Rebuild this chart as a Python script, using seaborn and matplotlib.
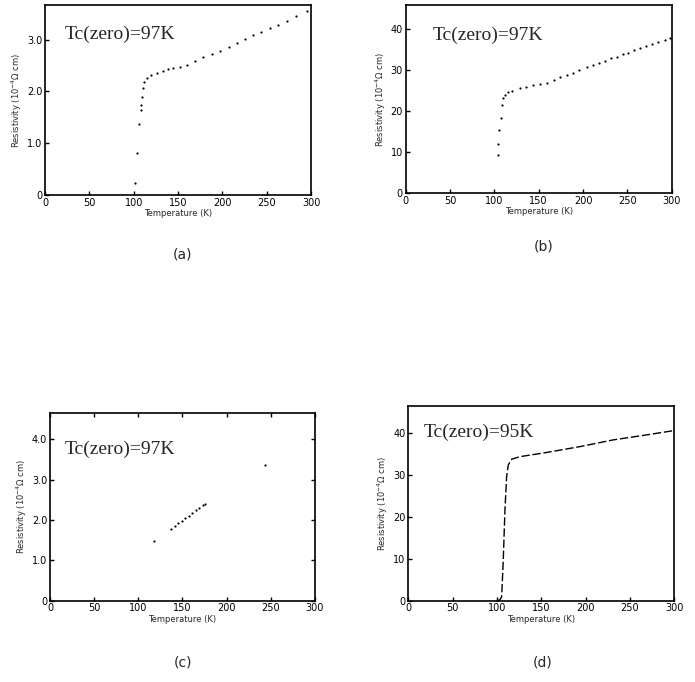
import matplotlib
matplotlib.use("Agg")
import matplotlib.pyplot as plt
import seaborn as sns
import pandas as pd

# ---- data ----
temp_a = [101.5, 104, 106, 107.8, 108.2, 109, 110, 111.6, 114.6, 120, 126, 133.4, 139, 144.7,
          152, 159.7, 169, 178.5, 188, 197.3, 207, 216, 225, 234.8, 244, 253.7, 263, 272.5, 283, 295]
res_a = [0.23, 0.82, 1.37, 1.64, 1.74, 1.89, 2.06, 2.19, 2.26, 2.32, 2.36, 2.40, 2.43, 2.45,
         2.48, 2.51, 2.58, 2.66, 2.72, 2.79, 2.86, 2.93, 3.01, 3.09, 3.15, 3.22, 3.29, 3.37, 3.45, 3.56]

temp_b = [103.7, 104.4, 105.5, 107.1, 108.2, 110, 112, 115.7, 120, 128.9, 136, 144, 151, 159,
          167, 174, 182, 189, 196, 204, 211.5, 218, 225, 232, 237.9, 245, 251, 258, 264, 271,
          278, 285, 292.3, 298]
res_b = [9.3, 12.0, 15.4, 18.2, 21.5, 23.1, 23.9, 24.5, 24.9, 25.5, 25.9, 26.3, 26.6, 26.9,
         27.6, 28.3, 28.8, 29.3, 29.9, 30.6, 31.2, 31.7, 32.2, 32.8, 33.2, 33.8, 34.2, 34.8,
         35.3, 35.8, 36.3, 36.8, 37.3, 37.8]

temp_c = [118, 137, 141, 145, 149, 153, 157, 161, 165, 169, 173, 175, 243]
res_c = [1.48, 1.78, 1.85, 1.92, 1.98, 2.05, 2.11, 2.18, 2.24, 2.30, 2.36, 2.40, 3.37]

temp_d = [100, 103.4, 105.3, 107.1, 109, 110.9, 112.7, 116.6, 126, 156, 193.6, 231, 268.8, 298.8]
res_d = [0.0, 0.2, 1.0, 9.7, 21.7, 29.6, 32.4, 33.8, 34.4, 35.4, 36.8, 38.4, 39.6, 40.6]

x_ticks = [0, 50, 100, 150, 200, 250, 300]
x_ticklabels = ["0", "50", "100", "150", "200", "250", "300"]
yticks_a = [0, 1, 2, 3]
yticklabels_a = ["0", "1.0", "2.0", "3.0"]
yticks_b = [0, 10, 20, 30, 40]
yticklabels_b = ["0", "10", "20", "30", "40"]
yticks_c = [0, 1, 2, 3, 4]
yticklabels_c = ["0", "1.0", "2.0", "3.0", "4.0"]
yticks_d = [0, 10, 20, 30, 40]
yticklabels_d = ["0", "10", "20", "30", "40"]

annot = ["Tc(zero)=97K", "Tc(zero)=97K", "Tc(zero)=97K", "Tc(zero)=95K"]
panel_labels = ["(a)", "(b)", "(c)", "(d)"]

sns.set_style("white")
plt.rcParams['font.family'] = ['DejaVu Sans']

fig = plt.figure(figsize=(6.95, 6.82), dpi=100)

specs = [
    dict(rect=[0.0647, 0.7141, 0.3828, 0.2786], T=temp_a, R=res_a, ylim=3.67,
         yt=yticks_a, ytl=yticklabels_a, txt=(22, 3.11), kind="dots", lab=(183, 255)),
    dict(rect=[0.5837, 0.7170, 0.3828, 0.2757], T=temp_b, R=res_b, ylim=45.8,
         yt=yticks_b, ytl=yticklabels_b, txt=(30, 38.5), kind="dots", lab=(544, 247)),
    dict(rect=[0.0719, 0.1192, 0.3813, 0.2757], T=temp_c, R=res_c, ylim=4.66,
         yt=yticks_c, ytl=yticklabels_c, txt=(17, 3.76), kind="dots", lab=(183, 662)),
    dict(rect=[0.5875, 0.1192, 0.3827, 0.2855], T=temp_d, R=res_d, ylim=46.5,
         yt=yticks_d, ytl=yticklabels_d, txt=(17, 40.1), kind="line", lab=(543, 662)),
]

for i, s in enumerate(specs):
    ax = fig.add_axes(s["rect"])
    df = pd.DataFrame({"T": s["T"], "R": s["R"]})
    if s["kind"] == "dots":
        sns.scatterplot(data=df, x="T", y="R", ax=ax, s=2.5, color="black",
                        linewidth=0, marker="o", legend=False)
    else:
        sns.lineplot(data=df, x="T", y="R", ax=ax, color="black", linewidth=1.0,
                     legend=False, linestyle=(0, (6, 2)))
    ax.set_xlim(0, 300)
    ax.set_ylim(0, s["ylim"])
    ax.set_xticks(x_ticks)
    ax.set_xticklabels(x_ticklabels)
    ax.set_yticks(s["yt"])
    ax.set_yticklabels(s["ytl"])
    ax.tick_params(axis="both", direction="in", length=3, width=1, labelsize=7,
                   pad=2, colors="black", bottom=True, left=True,
                   top=(i == 2), right=(i == 2))
    for sp in ax.spines.values():
        sp.set_color("black")
        sp.set_linewidth(1.2)
        sp.set_visible(True)
    ax.set_xlabel("Temperature (K)", fontsize=6, labelpad=1)
    ax.set_ylabel("Resistivity (10$^{-4}$Ω cm)", fontsize=6, labelpad=2)
    ax.text(s["txt"][0], s["txt"][1], annot[i], fontsize=14,
            family="Liberation Serif", va="center", ha="left")
    fig.text(s["lab"][0] / 695, 1 - s["lab"][1] / 682, panel_labels[i],
             fontsize=10, ha="center", va="center")

fig.savefig("out.png", dpi=100, facecolor="white")
